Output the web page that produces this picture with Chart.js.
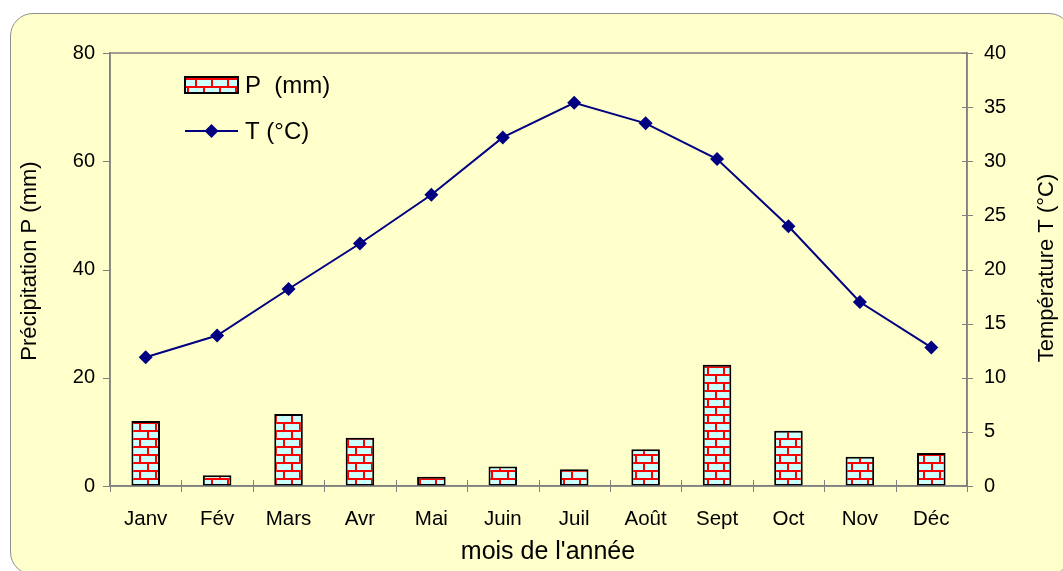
<!DOCTYPE html>
<html>
<head>
<meta charset="utf-8">
<script src="https://cdn.jsdelivr.net/npm/chart.js@4.4.1/dist/chart.umd.min.js"></script>
<style>
  html, body { margin: 0; padding: 0; background: #ffffff; overflow: hidden; }
  #frame {
    position: absolute; left: 10px; top: 13px; width: 1060px; height: 560px;
    background: #ffffcc; border: 1.5px solid #8f8f8f; border-radius: 23px;
  }
  #wrap { position: absolute; left: 0; top: 0; width: 1063px; height: 571px; }
</style>
</head>
<body>
<div id="frame"></div>
<div id="wrap"><canvas id="chart"></canvas></div>
<script>
// Monthly climate data
const months = ['Janv', 'Fév', 'Mars', 'Avr', 'Mai', 'Juin', 'Juil', 'Août', 'Sept', 'Oct', 'Nov', 'Déc'];
const precipitation = [12.0, 2.0, 13.3, 8.9, 1.7, 3.6, 3.1, 6.8, 22.4, 10.2, 5.4, 6.1];
const temperature = [11.9, 13.9, 18.2, 22.4, 26.9, 32.2, 35.4, 33.5, 30.2, 24.0, 17.0, 12.8];
const pTicks = [0, 20, 40, 60, 80];
const tTicks = [0, 5, 10, 15, 20, 25, 30, 35, 40];

const FONT = 'Liberation Sans, Arial, sans-serif';
const AXIS_GREY = '#808080';
const NAVY = '#000080';

// Brick fill: pale cyan bricks with red mortar
function brickPattern() {
  const c = document.createElement('canvas');
  c.width = 16; c.height = 16;
  const g = c.getContext('2d');
  g.fillStyle = '#ccffff';
  g.fillRect(0, 0, 16, 16);
  g.fillStyle = '#ff0000';
  g.fillRect(0, 6, 16, 2);
  g.fillRect(0, 14, 16, 2);
  g.fillRect(3, 0, 2, 6);
  g.fillRect(11, 8, 2, 6);
  return g.createPattern(c, 'repeat');
}
const bricks = brickPattern();

// Plot frame, crossing tick marks, axis titles drawn by hand and the legend
const decorations = {
  id: 'decorations',
  afterDraw(chart) {
    const ctx = chart.ctx;
    const a = chart.chartArea;
    const x = chart.scales.x, y = chart.scales.y, y1 = chart.scales.y1;
    ctx.save();
    ctx.strokeStyle = AXIS_GREY;
    ctx.lineWidth = 1.5;
    ctx.strokeRect(a.left, a.top, a.right - a.left, a.bottom - a.top);
    ctx.lineWidth = 1;
    ctx.beginPath();
    const n = months.length;
    for (let i = 0; i <= n; i++) {
      const px = Math.round(x.left + (x.right - x.left) * i / n) + 0.5;
      ctx.moveTo(px, a.bottom - 6);
      ctx.lineTo(px, a.bottom + 6);
    }
    pTicks.forEach(v => {
      const py = Math.round(y.getPixelForValue(v)) + 0.5;
      ctx.moveTo(a.left - 7, py);
      ctx.lineTo(a.left, py);
    });
    tTicks.forEach(v => {
      const py = Math.round(y1.getPixelForValue(v)) + 0.5;
      ctx.moveTo(a.right - 5, py);
      ctx.lineTo(a.right + 6, py);
    });
    ctx.stroke();

    // bottom axis title
    ctx.fillStyle = '#000';
    ctx.textAlign = 'center';
    ctx.textBaseline = 'middle';
    ctx.font = '25px ' + FONT;
    ctx.fillText(chart.options.scales.x.title.text, 548, 552);

    // vertical axis titles, reading bottom to top
    ctx.font = '22px ' + FONT;
    ctx.translate(30, 261);
    ctx.rotate(-Math.PI / 2);
    ctx.fillText(chart.options.scales.y.title.text, 0, 0);
    ctx.setTransform(1, 0, 0, 1, 0, 0);
    ctx.translate(1047, 268);
    ctx.rotate(-Math.PI / 2);
    ctx.fillText(chart.options.scales.y1.title.text, 0, 0);
    ctx.setTransform(1, 0, 0, 1, 0, 0);

    // legend
    const dsP = chart.data.datasets[0], dsT = chart.data.datasets[1];
    const lx = a.left + 75, ly1 = 85, ly2 = 131;
    ctx.fillStyle = bricks;
    ctx.fillRect(lx, ly1 - 8, 53, 16);
    ctx.strokeStyle = '#000';
    ctx.lineWidth = 2;
    ctx.strokeRect(lx, ly1 - 8, 53, 16);
    ctx.strokeStyle = NAVY;
    ctx.beginPath();
    ctx.moveTo(lx, ly2);
    ctx.lineTo(lx + 53, ly2);
    ctx.stroke();
    ctx.fillStyle = NAVY;
    ctx.beginPath();
    const cx = lx + 26.5, r = 7;
    ctx.moveTo(cx, ly2 - r); ctx.lineTo(cx + r, ly2); ctx.lineTo(cx, ly2 + r); ctx.lineTo(cx - r, ly2);
    ctx.closePath();
    ctx.fill();
    ctx.fillStyle = '#000';
    ctx.font = '24px ' + FONT;
    ctx.textAlign = 'left';
    ctx.fillText(dsP.label, lx + 60, ly1 + 1);
    ctx.fillText(dsT.label, lx + 60, ly2 + 1);
    ctx.restore();
  }
};

new Chart(document.getElementById('chart'), {
  data: {
    labels: months,
    datasets: [
      {
        type: 'bar',
        label: 'P  (mm)',
        data: precipitation,
        yAxisID: 'y',
        backgroundColor: bricks,
        borderColor: '#000000',
        borderWidth: 2,
        borderSkipped: false,
        categoryPercentage: 1,
        barPercentage: 0.4,
        order: 2
      },
      {
        type: 'line',
        label: 'T (°C)',
        data: temperature,
        yAxisID: 'y1',
        borderColor: NAVY,
        borderWidth: 2,
        backgroundColor: NAVY,
        pointStyle: 'rectRot',
        pointRadius: 7,
        pointBorderWidth: 0,
        tension: 0,
        order: 1
      }
    ]
  },
  options: {
    responsive: true,
    maintainAspectRatio: false,
    animation: false,
    layout: { padding: { left: 0, right: 0, top: 53, bottom: 0 } },
    plugins: { legend: { display: false }, tooltip: { enabled: false } },
    scales: {
      x: {
        type: 'category',
        offset: true,
        grid: { display: false, drawTicks: false },
        border: { display: true, color: AXIS_GREY, width: 1.5 },
        ticks: { color: '#000', font: { family: FONT, size: 20.5 }, padding: 21, maxRotation: 0 },
        title: { display: false, text: "mois de l'année" },
        afterFit(s) { s.height = 85; }
      },
      y: {
        position: 'left',
        min: 0, max: 80,
        afterBuildTicks(s) { s.ticks = pTicks.map(v => ({ value: v })); },
        grid: { display: false, drawTicks: false },
        border: { display: true, color: AXIS_GREY, width: 1.5 },
        ticks: { color: '#000', font: { family: FONT, size: 20 }, padding: 15 },
        title: { display: false, text: 'Précipitation P (mm)' },
        afterFit(s) { s.width = 110; }
      },
      y1: {
        position: 'right',
        min: 0, max: 40,
        afterBuildTicks(s) { s.ticks = tTicks.map(v => ({ value: v })); },
        grid: { display: false, drawTicks: false },
        border: { display: true, color: AXIS_GREY, width: 1.5 },
        ticks: { color: '#000', font: { family: FONT, size: 20 }, padding: 17 },
        title: { display: false, text: 'Température T (°C)' },
        afterFit(s) { s.width = 96; }
      }
    }
  },
  plugins: [decorations]
});
</script>
</body>
</html>
